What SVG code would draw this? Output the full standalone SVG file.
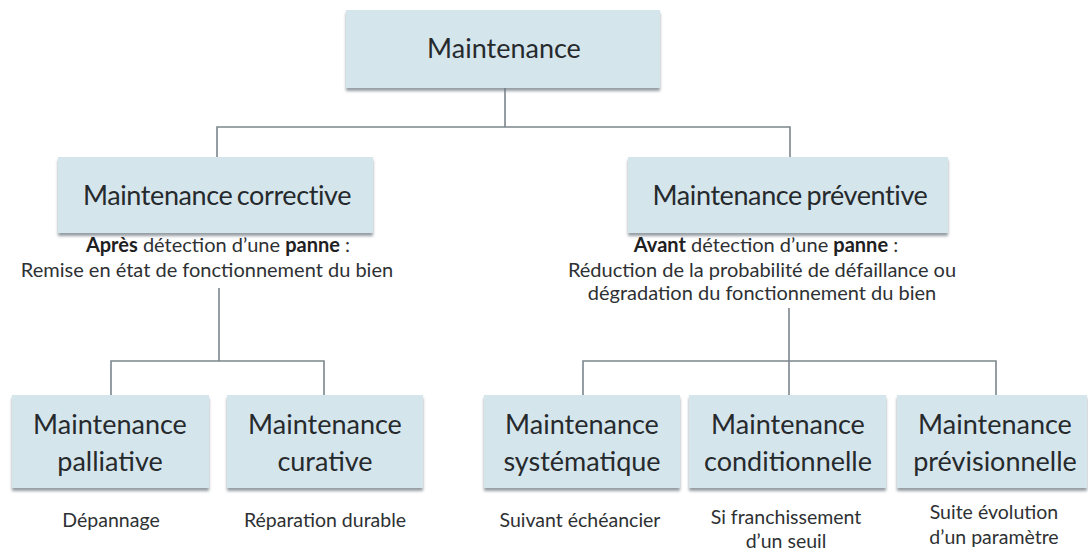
<svg xmlns="http://www.w3.org/2000/svg" width="1088" height="550" viewBox="0 0 1088 550">
  <defs>
    <filter id="shadow" x="-5%" y="-10%" width="110%" height="130%">
      <feDropShadow dx="0" dy="3" stdDeviation="1.6" flood-color="#6f7c84" flood-opacity="0.75"/>
    </filter>
  </defs>
  <style>
    .box { fill: #d5e5ec; filter: url(#shadow); }
    .title { font-family: Lato, "Liberation Sans", sans-serif; font-size: 27px; fill: #262a2d; text-anchor: middle; }
    .tight { letter-spacing: -0.4px; word-spacing: -2px; }
    .desc { font-family: Lato, "Liberation Sans", sans-serif; font-size: 20px; fill: #2e3133; text-anchor: middle; }
    .small { font-size: 19.5px; }
    .desc .b { font-weight: bold; fill: #1e2022; }
    .wire { fill: none; stroke: #7c868c; stroke-width: 1.6; }
  </style>

  <rect width="1088" height="550" fill="#ffffff"/>

  <!-- connectors -->
  <g id="connectors">
    <path class="wire" d="M505 88 V127 M217 157 V127 H790 V157"/>
    <path class="wire" d="M219 288 V361 M111 395 V361 H324 V395"/>
    <path class="wire" d="M789 308 V395 M583 395 V361 H996 V395"/>
  </g>

  <!-- root -->
  <g id="maintenance">
    <rect class="box" x="346" y="10" width="314" height="78"/>
    <text class="title" x="504" y="58">Maintenance</text>
  </g>

  <!-- level 2 -->
  <g id="corrective">
    <rect class="box" x="58" y="157" width="315" height="76"/>
    <text class="title tight" x="217" y="205">Maintenance corrective</text>
    <text class="desc" x="218" y="252"><tspan class="b">Après</tspan> détection d’une <tspan class="b">panne</tspan> :</text>
    <text class="desc" x="207" y="277">Remise en état de fonctionnement du bien</text>
  </g>

  <g id="preventive">
    <rect class="box" x="628" y="157" width="320" height="76"/>
    <text class="title tight" x="790" y="205">Maintenance préventive</text>
    <text class="desc" x="766" y="252"><tspan class="b">Avant</tspan> détection d’une <tspan class="b">panne</tspan> :</text>
    <text class="desc" x="762" y="277">Réduction de la probabilité de défaillance ou</text>
    <text class="desc" x="762" y="300">dégradation du fonctionnement du bien</text>
  </g>

  <!-- level 3, corrective branch -->
  <g id="palliative">
    <rect class="box" x="12" y="395" width="197" height="93"/>
    <text class="title" x="110" y="434">Maintenance</text>
    <text class="title" x="110" y="471">palliative</text>
    <text class="desc small" x="111" y="527">Dépannage</text>
  </g>

  <g id="curative">
    <rect class="box" x="227" y="395" width="196" height="93"/>
    <text class="title" x="325" y="434">Maintenance</text>
    <text class="title" x="325" y="471">curative</text>
    <text class="desc small" x="325" y="527">Réparation durable</text>
  </g>

  <!-- level 3, preventive branch -->
  <g id="systematique">
    <rect class="box" x="484" y="395" width="196" height="93"/>
    <text class="title" x="582" y="434">Maintenance</text>
    <text class="title" x="582" y="471">systématique</text>
    <text class="desc small" x="580" y="527">Suivant échéancier</text>
  </g>

  <g id="conditionnelle">
    <rect class="box" x="689" y="395" width="197" height="93"/>
    <text class="title" x="788" y="434">Maintenance</text>
    <text class="title" x="788" y="471">conditionnelle</text>
    <text class="desc small" x="786" y="524">Si franchissement</text>
    <text class="desc small" x="786" y="548">d’un seuil</text>
  </g>

  <g id="previsionnelle">
    <rect class="box" x="897" y="395" width="190" height="93"/>
    <text class="title" x="995" y="434">Maintenance</text>
    <text class="title" x="995" y="471">prévisionnelle</text>
    <text class="desc small" x="994" y="519">Suite évolution</text>
    <text class="desc small" x="994" y="544">d’un paramètre</text>
  </g>
</svg>
